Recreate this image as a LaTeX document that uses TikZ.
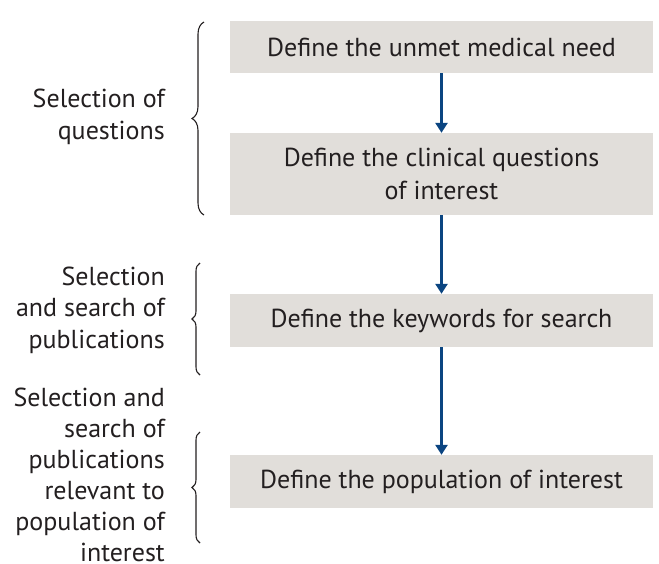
\documentclass[tikz,border=0pt]{standalone}
\usepackage{fontspec}
\setmainfont{PT Sans}
\usetikzlibrary{decorations.pathreplacing,arrows.meta}
\definecolor{boxfill}{HTML}{E1DEDA}
\definecolor{flowblue}{HTML}{0B4581}
\definecolor{inktext}{HTML}{231F20}
\tikzset{
  stepbox/.style={fill=boxfill, minimum width=423pt, inner sep=0pt, align=center,
    text=inktext, font=\fontsize{26}{33}\selectfont},
  flow/.style={draw=flowblue, line width=2.6pt, -{Triangle[length=10pt,width=12pt]}},
  sidelabel/.style={anchor=east, align=right, text=inktext, inner sep=0pt,
    font=\fontsize{26}{31.5}\selectfont},
  groupbrace/.style={draw=inktext, line width=1.1pt, decorate}
}
\begin{document}
\begin{tikzpicture}[x=1pt,y=-1pt]
\useasboundingbox (0,0) rectangle (659,563);
% flow boxes
\node[stepbox, minimum height=52pt] (need) at (441.5,47) {Define the unmet medical need};
\node[stepbox, minimum height=82pt] (quest) at (441.5,174) {Define the clinical questions\\of interest};
\node[stepbox, minimum height=53pt] (keys) at (441.5,320.5) {Define the keywords for search};
\node[stepbox, minimum height=53pt] (pop) at (441.5,481.5) {Define the population of interest};
% connectors
\draw[flow] (need.south) -- (quest.north);
\draw[flow] (quest.south) -- (keys.north);
\draw[flow] (keys.south) -- (pop.north);
% group labels
\node[sidelabel] (l1) at (165,117) {Selection of\\questions};
\node[sidelabel] (l2) at (165,310) {Selection\\and search of\\publications};
\node[sidelabel, font=\fontsize{26}{31}\selectfont] (l3) at (165,475) {Selection and\\search of\\publications\\relevant to\\population of\\interest};
% braces
\coordinate (b1t) at (204,22);  \coordinate (b1b) at (204,215);
\coordinate (b2t) at (200,263); \coordinate (b2b) at (200,375);
\coordinate (b3t) at (200,432); \coordinate (b3b) at (200,543);
\draw[groupbrace, decoration={brace, amplitude=12pt}] (b1b) -- (b1t);
\draw[groupbrace, decoration={brace, amplitude=8pt}] (b2b) -- (b2t);
\draw[groupbrace, decoration={brace, amplitude=8pt}] (b3b) -- (b3t);
\end{tikzpicture}
\end{document}
